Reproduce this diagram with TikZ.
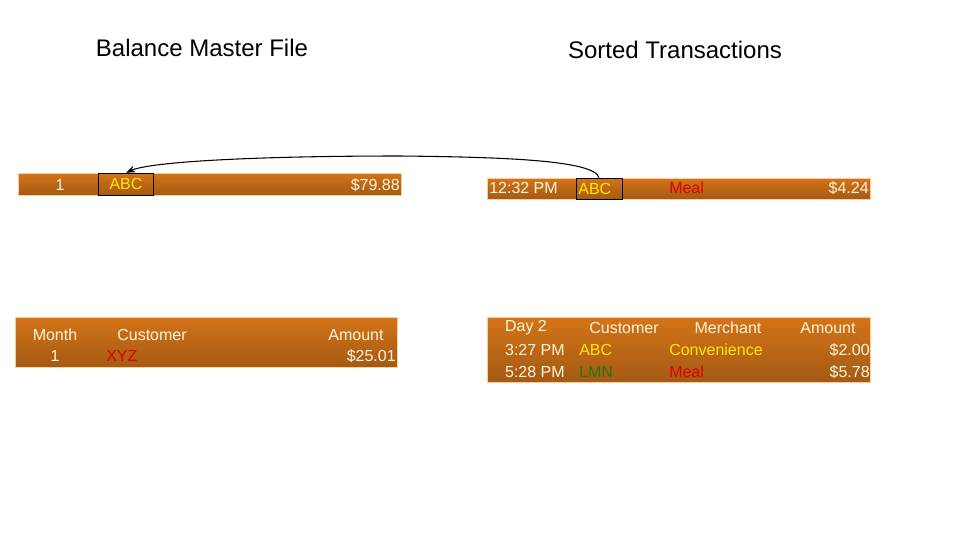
\documentclass[tikz,border=0pt]{standalone}
\usepackage{fontspec}
\setmainfont{Liberation Sans}
\usetikzlibrary{arrows.meta}
\definecolor{barhi}{HTML}{D47418}
\definecolor{barlo}{HTML}{A45A14}
\definecolor{txtw}{HTML}{FFF6DC}
\definecolor{txty}{HTML}{FFE800}
\definecolor{txtr}{HTML}{E00000}
\definecolor{txtg}{HTML}{1E7A10}
\tikzset{
  bar/.style={draw=orange!40, top color=barhi, bottom color=barlo},
  cell/.style={font=\fontsize{12}{14}\selectfont, inner sep=0pt, text=txtw},
  title/.style={font=\fontsize{18}{20}\selectfont, inner sep=0pt}
}
\begin{document}
\begin{tikzpicture}[x=0.75pt,y=-0.75pt]
      \useasboundingbox (0,0) rectangle (960,540);

      \node[title] (balt) at (202,48) {Balance Master File};
      \node[title] (sortt) at (675,50) {Sorted Transactions};

      \draw[bar] (18,173) rectangle (401,195);
      \draw[bar] (15,317) rectangle (397,367);
      \draw[bar] (487,178) rectangle (870,199);
      \draw[bar] (487,317) rectangle (870,382);

      % balance master
      \node[cell] (bmon) at (60,185) {1};
      \node[cell, text=txty, draw=black, minimum width=41pt, minimum height=16.5pt] (babc) at (126,184) {ABC};
      \node[cell, anchor=east] (bamt) at (400,185) {\$79.88};
      \node[cell] (hmon) at (55,335) {Month};
      \node[cell] (hcus) at (152,335) {Customer};
      \node[cell] (hamt) at (356,335) {Amount};
      \node[cell] (nmon) at (55,356) {1};
      \node[cell, anchor=west, text=txtr] (ncus) at (106,356) {XYZ};
      \node[cell, anchor=east] (namt) at (396,356) {\$25.01};

      % sorted transactions
      \node[cell, anchor=west] (ttim) at (489,188) {12:32 PM};
      \node[cell, text=txty, draw=black, minimum width=34.5pt, minimum height=15.75pt, text width=31pt] (tabc) at (599,188.5) {ABC};
      \node[cell, anchor=west, text=txtr] (tmer) at (669,188) {Meal};
      \node[cell, anchor=east] (tamt) at (869,188) {\$4.24};

      \node[cell] (hday) at (526,328) {Day 2};
      \node[cell] (hcu2) at (624,328) {Customer};
      \node[cell] (hmer) at (728,328) {Merchant};
      \node[cell] (ham2) at (828,328) {Amount};
      \node[cell, anchor=east] (tim1) at (565,350) {3:27 PM};
      \node[cell, anchor=west, text=txty] (cus1) at (579,350) {ABC};
      \node[cell, anchor=west, text=txty] (mer1) at (669,350) {Convenience};
      \node[cell, anchor=east] (amt1) at (870,350) {\$2.00};
      \node[cell, anchor=east] (tim2) at (565,372) {5:28 PM};
      \node[cell, anchor=west, text=txtg] (cus2) at (579,372) {LMN};
      \node[cell, anchor=west, text=txtr] (mer2) at (669,372) {Meal};
      \node[cell, anchor=east] (amt2) at (870,372) {\$5.78};

      \draw[thick, -{Stealth[length=7pt]}] (tabc.north) .. controls (595,160) and (500,157) .. (400,156)
        .. controls (250,156) and (150,162) .. (babc.north);
\end{tikzpicture}
\end{document}
